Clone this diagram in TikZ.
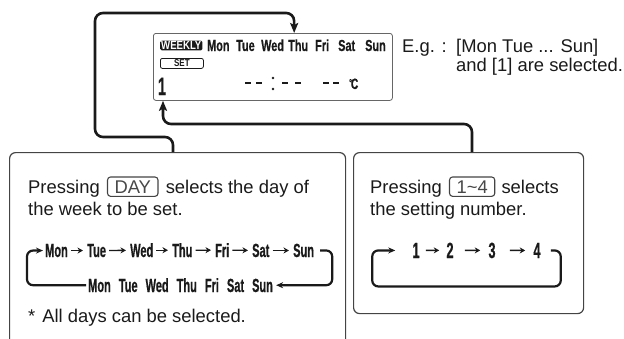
\documentclass[tikz,border=0pt]{standalone}
\usepackage{fontspec}
\setmainfont{Liberation Sans}
\newfontfamily\lcd[FakeStretch=0.68, FakeBold=0.5]{Liberation Sans Bold}
\newfontfamily\lcdn[FakeStretch=0.58, FakeBold=0.6]{Liberation Sans Bold}
\newfontfamily\lcdw[FakeStretch=0.8]{Liberation Sans Bold}
\usetikzlibrary{arrows.meta}
\definecolor{ink}{HTML}{1A1A1A}
\definecolor{frame}{HTML}{444444}
\definecolor{dframe}{HTML}{666666}
\newcommand\wsp{\hspace{8pt}}
\newcommand\dsh{\rule[5pt]{6pt}{2.2pt}}
\begin{document}
\begin{tikzpicture}[x=1pt,y=-1pt,
  conn/.style={line width=2.6pt, draw=ink, rounded corners=8pt, -{Stealth[length=10pt,width=8pt,inset=2pt]}},
  lp/.style={line width=2.2pt, draw=ink, rounded corners=6pt},
  body/.style={font=\fontsize{18.4}{22}\selectfont, text=ink, inner sep=0pt, anchor=base west},
  dday/.style={font=\lcd\fontsize{16}{18}\selectfont, text=ink, inner sep=0pt, anchor=base west},
  lday/.style={font=\lcdn\fontsize{19}{21}\selectfont, text=ink, inner sep=0pt, anchor=base west},
  digit/.style={font=\lcdn\fontsize{22}{24}\selectfont, text=ink, inner sep=0pt, anchor=base},
  darr/.style={line width=1.3pt, draw=ink, -{Stealth[length=5.5pt,width=6pt]}, shorten <=3pt, shorten >=4pt},
  narr/.style={line width=1.4pt, draw=ink, -{Stealth[length=5.5pt,width=6pt]}},
  panel/.style={draw=frame, line width=1.2pt, rounded corners=6pt, inner sep=0pt, anchor=north west},
  keybox/.style={draw=frame, line width=1.1pt, rounded corners=3pt, inner xsep=7pt, minimum height=18pt, font=\fontsize{18.4}{22}\selectfont, text=ink!80, anchor=base west},
  lcdtxt/.style={font=\lcd\fontsize{15}{15}\selectfont, text=ink, inner sep=0pt, anchor=base west}
]
\clip (0,0) rectangle (624,338);
% panels
\node[panel, minimum width=239pt, minimum height=67pt, draw=dframe, line width=0.8pt, rounded corners=2.5pt] (disp) at (153,33) {};
\node[panel, minimum width=336pt, minimum height=220pt] (lbox) at (9,152) {};
\node[panel, minimum width=230pt, minimum height=161pt] (rbox) at (353,152) {};
% display content
\node[fill=ink, text=white, font=\lcdw\fontsize{12}{12}\selectfont, rounded corners=1.5pt, inner xsep=1pt, inner ysep=0.8pt, minimum width=42pt, anchor=west] (wk) at (160,45.5) {WEEKLY};
\foreach \d/\x in {Mon/207,Tue/236,Wed/261,Thu/288,Fri/315,Sat/338,Sun/365}
  \node[dday] (d\d) at (\x,51) {\d};
\node[draw=ink, line width=0.8pt, rounded corners=2pt, minimum width=43pt, minimum height=10pt, inner sep=0pt, font=\lcdw\fontsize{10}{10}\selectfont, text=ink, anchor=north west] (set) at (160,58) {SET};
\node[font=\lcdn\fontsize{25}{25}\selectfont, text=ink, inner sep=0pt, anchor=base] (one) at (162,95) {1};
\node[lcdtxt] (time) at (245,89) {\dsh\hspace{5pt}\dsh\hspace{20pt}\dsh\hspace{7pt}\dsh};
\fill[ink] (273,78) circle (1.4pt) (273,89) circle (1.4pt);
\node[lcdtxt] (temp) at (323,89) {\dsh\hspace{4pt}\dsh\hspace{10pt}\raisebox{3pt}{\fontsize{10}{10}\selectfont °}\hspace{-1pt}C};
% example text
\node[body] (eg) at (402,52) {E.g. :};
\node[body] (eg2) at (456,52) {[Mon Tue ... Sun]};
\node[body] (eg3) at (456,71) {and [1] are selected.};
% connectors
\draw[conn] ([xshift=164pt]lbox.north west) -- ++(0,-15) -| (95,13) -| ([xshift=-4pt]dThu.center |- disp.north);
\draw[conn] ([xshift=119pt]rbox.north west) -- ++(0,-28) -| ([xshift=1pt]one.center |- disp.south);
% left panel
\node[body] (lp1) at (28,193) {Pressing};
\node[keybox] (daykey) at ([xshift=7pt]lp1.base east) {DAY};
\node[body] (lp2) at ([xshift=7pt]daykey.base east) {selects the day of};
\node[body] (lp3) at (28,215) {the week to be set.};
\foreach \d/\x in {Mon/45,Tue/87,Wed/130,Thu/172,Fri/215,Sat/252,Sun/293}
  \node[lday] (l\d) at (\x,257) {\d};
\foreach \a/\b in {Mon/Tue,Tue/Wed,Wed/Thu,Thu/Fri,Fri/Sat,Sat/Sun}
  \draw[darr] (l\a) -- (l\b);
\node[lday] (allB) at (88,292) {Mon\wsp Tue\wsp Wed\wsp Thu\wsp Fri\wsp Sat\wsp Sun};
\coordinate (rc) at ([xshift=18pt]lSun.east);
\draw[lp, -{Stealth[length=7pt,width=6pt]}] ([xshift=-2pt]allB.west) -| ([xshift=-18pt]lMon.west) -- ([xshift=-2pt]lMon.west);
\draw[lp, -{Stealth[length=7pt,width=6pt]}] ([xshift=6pt]lSun.east) -| (rc |- allB.east) -- ([xshift=3pt]allB.east);
\node[body] (note) at (28,322) {*\hspace{7pt}All days can be selected.};
% right panel
\node[body] (rp1) at (370,193) {Pressing};
\node[keybox] (numkey) at ([xshift=7pt]rp1.base east) {1\textasciitilde 4};
\node[body] (rp2) at ([xshift=6pt]numkey.base east) {selects};
\node[body] (rp3) at (370,215) {the setting number.};
\node[digit] (n1) at (416,258) {1};
\node[digit] (n2) at (450,258) {2};
\node[digit] (n3) at (492,258) {3};
\node[digit] (n4) at (537,258) {4};
\draw[narr, shorten <=6pt, shorten >=7pt] (n1) -- (n2);
\draw[narr, shorten <=11pt, shorten >=8pt] (n2) -- (n3);
\draw[narr, shorten <=14pt, shorten >=8pt] (n3) -- (n4);
\coordinate (rr) at ([xshift=20pt]n4.east);
\draw[lp, -{Stealth[length=7pt,width=6pt]}] ([xshift=10pt]n4.east) -| ([yshift=-36pt]rr) -| ([xshift=-40pt]n1.west) -- ([xshift=-17pt]n1.west);
\end{tikzpicture}
\end{document}
